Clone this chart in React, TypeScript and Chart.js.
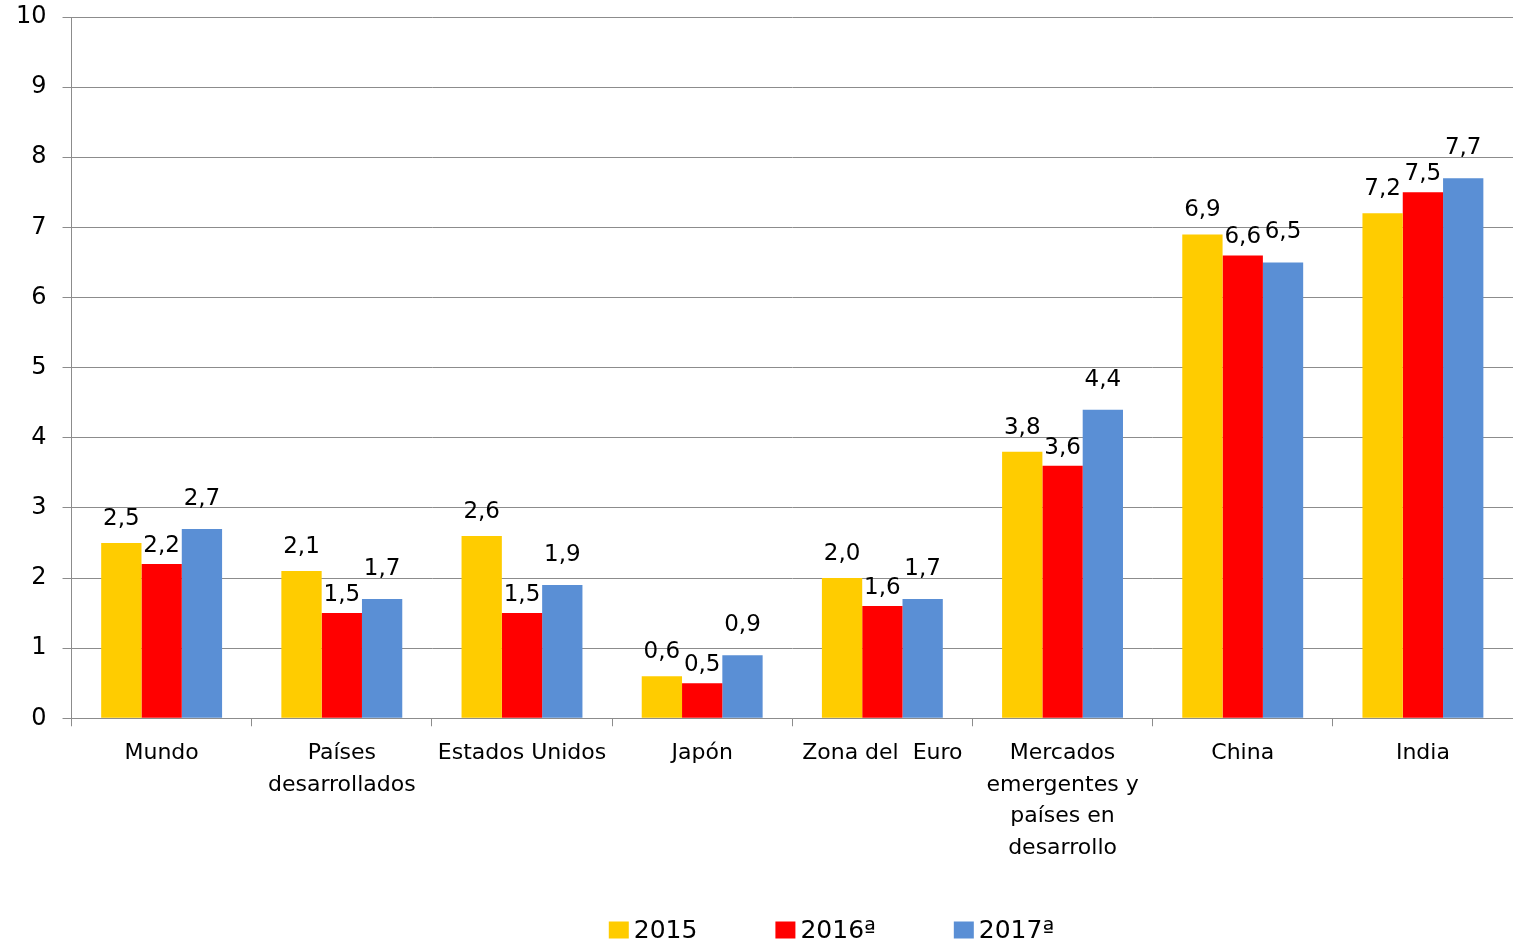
import React, { useEffect, useRef } from "react";
import { Chart, registerables } from "chart.js";

Chart.register(...registerables);

const categories: (string | string[])[] = [
  "Mundo",
  ["Países", "desarrollados"],
  "Estados Unidos",
  "Japón",
  "Zona del  Euro",
  ["Mercados", "emergentes y", "países en", "desarrollo"],
  "China",
  "India",
];

const seriesNames = ["2015", "2016ª", "2017ª"];
const values2015 = [2.5, 2.1, 2.6, 0.6, 2.0, 3.8, 6.9, 7.2];
const values2016 = [2.2, 1.5, 1.5, 0.5, 1.6, 3.6, 6.6, 7.5];
const values2017 = [2.7, 1.7, 1.9, 0.9, 1.7, 4.4, 6.5, 7.7];
const seriesColors = ["#FFCC00", "#FF0000", "#5A8FD5"];
const labelOffsets = [24, 18, 30];

const FONT = "'DejaVu Sans', sans-serif";
const GRID = "#8C8C8C";

const dataLabelPlugin = {
  id: "dataLabels",
  afterDatasetsDraw(chart: any) {
    const ctx = chart.ctx;
    ctx.save();
    ctx.font = `23px ${FONT}`;
    ctx.fillStyle = "#000";
    ctx.textAlign = "center";
    ctx.textBaseline = "middle";
    chart.data.datasets.forEach((ds: any, di: number) => {
      const meta = chart.getDatasetMeta(di);
      meta.data.forEach((bar: any, i: number) => {
        const v = ds.data[i] as number;
        const txt = v.toFixed(1).replace(".", ",");
        ctx.fillText(txt, bar.x, bar.y - labelOffsets[di]);
      });
    });
    ctx.restore();
  },
};

const legendPlugin = {
  id: "customLegend",
  afterDraw(chart: any) {
    const ctx = chart.ctx;
    ctx.save();
    ctx.font = `25px ${FONT}`;
    ctx.textBaseline = "middle";
    ctx.textAlign = "left";
    const boxW = 20;
    const boxH = 17;
    const gapText = 5;
    const gapItem = 78;
    const items = chart.data.datasets.map((ds: any) => ({
      text: ds.label as string,
      color: ds.backgroundColor as string,
      w: boxW + gapText + ctx.measureText(ds.label).width,
    }));
    const total =
      items.reduce((s: number, it: any) => s + it.w, 0) + gapItem * (items.length - 1);
    let x = chart.width / 2 - total / 2 + 75;
    const y = chart.height - 13;
    items.forEach((it: any) => {
      ctx.fillStyle = it.color;
      ctx.fillRect(x, y - boxH / 2, boxW, boxH);
      ctx.fillStyle = "#000";
      ctx.fillText(it.text, x + boxW + gapText, y + 1);
      x += it.w + gapItem;
    });
    ctx.restore();
  },
};

export default function App() {
  const ref = useRef<HTMLCanvasElement>(null);
  useEffect(() => {
    document.body.style.margin = "0";
    const canvas = ref.current!;
    const datasets = [values2015, values2016, values2017].map((vals, i) => ({
      label: seriesNames[i],
      data: vals,
      backgroundColor: seriesColors[i],
      borderWidth: 0,
      categoryPercentage: 0.671,
      barPercentage: 1,
    }));
    const chart = new Chart(canvas, {
      type: "bar",
      data: { labels: categories, datasets },
      options: {
        animation: false,
        responsive: false,
        maintainAspectRatio: false,
        layout: { padding: { top: 17, left: 0, right: 0, bottom: 68 } },
        plugins: {
          legend: { display: false },
          tooltip: { enabled: false },
        },
        scales: {
          x: {
            offset: true,
            grid: {
              display: true,
              offset: true,
              drawOnChartArea: false,
              drawTicks: true,
              tickLength: 8,
              color: GRID,
            },
            border: { display: true, color: GRID, width: 1 },
            ticks: {
              color: "#000",
              font: { family: FONT, size: 22, lineHeight: 1.44 },
              padding: 11,
              maxRotation: 0,
              autoSkip: false,
            },
          },
          y: {
            min: 0,
            max: 10,
            afterFit: (s: any) => {
              s.paddingTop = 0;
            },
            grid: {
              color: GRID,
              tickLength: 9,
              drawTicks: true,
            },
            border: { display: true, color: GRID, width: 1 },
            ticks: {
              stepSize: 1,
              color: "#000",
              font: { family: FONT, size: 24 },
              padding: 16,
            },
          },
        },
      },
      plugins: [dataLabelPlugin, legendPlugin],
    });
    return () => chart.destroy();
  }, []);
  return (
    <div style={{ width: 1513, height: 943 }}>
      <canvas ref={ref} width={1513} height={943} style={{ display: "block" }} />
    </div>
  );
}
